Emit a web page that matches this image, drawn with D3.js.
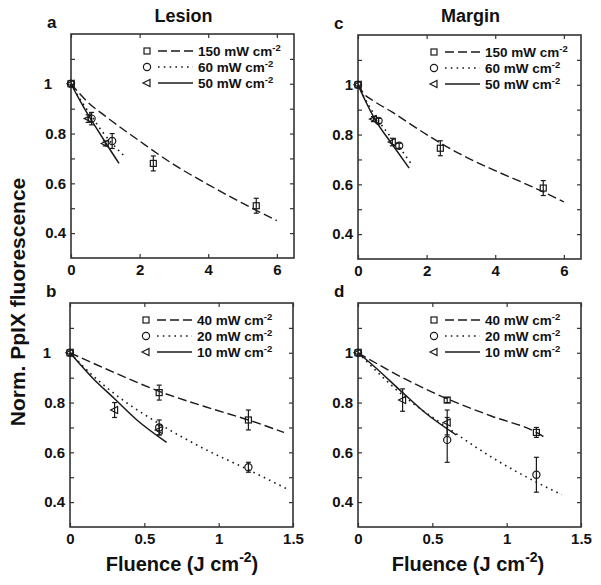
<!DOCTYPE html>
<html><head><meta charset="utf-8">
<script src="https://cdn.jsdelivr.net/npm/d3@7"></script>
<style>body{margin:0;background:#fff}svg{display:block}text{font-family:"Liberation Sans",Arial,sans-serif;font-weight:bold;fill:#111}</style>
</head><body><svg id="c" width="601" height="585"></svg>
<script>
// ---------- data ----------
const panelLetters = ["a", "b", "c", "d"];
const panelTitles = ["Lesion", "Margin"];
const legendTop = ["150", "60", "50"];
const legendBottom = ["40", "20", "10"];
const yTicks = [0.4, 0.5, 0.6, 0.7, 0.8, 0.9, 1.0, 1.1];
const yTickLabels = [0.4, 0.6, 0.8, 1];
const xTicksTop = [0, 2, 4, 6];
const xTicksBottom = [0, 0.5, 1, 1.5];

// Panel a (Lesion, high irradiance)
const aSqX = [0, 2.4, 5.4], aSqY = [1, 0.68, 0.51], aSqE = [0, 0.03, 0.03];
const aCiX = [0, 0.6, 1.2], aCiY = [1, 0.86, 0.77], aCiE = [0, 0.025, 0.03];
const aTrX = [0, 0.5, 1.0], aTrY = [1, 0.86, 0.76], aTrE = [0, 0.015, 0.01];
const aDashX = [0, 0.5, 1, 2, 3, 4, 5, 6], aDashY = [1, 0.925, 0.87, 0.77, 0.675, 0.595, 0.52, 0.45];
const aDotX = [0, 0.3, 0.6, 0.9, 1.2, 1.55], aDotY = [1, 0.93, 0.87, 0.81, 0.76, 0.71];
const aSolX = [0, 0.25, 0.5, 0.75, 1, 1.4], aSolY = [1, 0.935, 0.875, 0.82, 0.765, 0.68];

// Panel c (Margin, high irradiance)
const cSqX = [0, 2.4, 5.4], cSqY = [1, 0.745, 0.585], cSqE = [0, 0.03, 0.03];
const cCiX = [0, 0.6, 1.2], cCiY = [1, 0.855, 0.755], cCiE = [0, 0.01, 0.01];
const cTrX = [0, 0.45, 1.0], cTrY = [1, 0.862, 0.77], cTrE = [0, 0.01, 0.015];
const cDashX = [0, 0.2, 0.4, 1, 2, 3, 4, 5, 6], cDashY = [1, 0.96, 0.94, 0.89, 0.8, 0.72, 0.655, 0.595, 0.53];
const cDotX = [0, 0.3, 0.6, 0.9, 1.2, 1.56], cDotY = [1, 0.92, 0.855, 0.8, 0.75, 0.68];
const cSolX = [0, 0.2, 0.5, 1, 1.49], cSolY = [1, 0.94, 0.86, 0.76, 0.665];

// Panel b (Lesion, low irradiance)
const bSqX = [0, 0.6, 1.2], bSqY = [1, 0.84, 0.73], bSqE = [0, 0.03, 0.04];
const bCiX = [0, 0.6, 1.2], bCiY = [1, 0.70, 0.54], bCiE = [0, 0.03, 0.02];
const bTrX = [0, 0.3, 0.6], bTrY = [1, 0.77, 0.69], bTrE = [0, 0.03, 0.02];
const bDashX = [0, 0.3, 0.6, 0.9, 1.2, 1.44], bDashY = [1, 0.92, 0.845, 0.785, 0.73, 0.68];
const bDotX = [0, 0.15, 0.3, 0.6, 0.9, 1.2, 1.47], bDotY = [1, 0.91, 0.835, 0.715, 0.615, 0.53, 0.45];
const bSolX = [0, 0.15, 0.3, 0.45, 0.65], bSolY = [1, 0.9, 0.815, 0.73, 0.64];

// Panel d (Margin, low irradiance)
const dSqX = [0, 0.6, 1.2], dSqY = [1, 0.81, 0.68], dSqE = [0, 0.01, 0.02];
const dCiX = [0, 0.6, 1.2], dCiY = [1, 0.65, 0.51], dCiE = [0, 0.09, 0.07];
const dTrX = [0, 0.3, 0.6], dTrY = [1, 0.81, 0.72], dTrE = [0, 0.045, 0.05];
const dDashX = [0, 0.3, 0.6, 0.9, 1.2, 1.27], dDashY = [1, 0.9, 0.815, 0.745, 0.68, 0.655];
const dDotX = [0, 0.3, 0.6, 0.9, 1.2, 1.37], dDotY = [1, 0.83, 0.7, 0.58, 0.48, 0.43];
const dSolX = [0, 0.1, 0.3, 0.45, 0.66], dSolY = [1, 0.95, 0.84, 0.76, 0.67];

// ---------- drawing ----------
const svg = d3.select("#c");
const PW = 223, PH = 224;
const ink = "#1a1a1a";

const panels = [
  {letter: panelLetters[0], x0: 71, y0: 34, xmax: 6.5, xt: xTicksTop, leg: legendTop, title: panelTitles[0], oneShift: -14,
   sq: [aSqX, aSqY, aSqE], ci: [aCiX, aCiY, aCiE], tr: [aTrX, aTrY, aTrE],
   dash: [aDashX, aDashY], dot: [aDotX, aDotY], sol: [aSolX, aSolY]},
  {letter: panelLetters[1], x0: 70, y0: 303, xmax: 1.5, xt: xTicksBottom, leg: legendBottom, oneShift: -14,
   sq: [bSqX, bSqY, bSqE], ci: [bCiX, bCiY, bCiE], tr: [bTrX, bTrY, bTrE],
   dash: [bDashX, bDashY], dot: [bDotX, bDotY], sol: [bSolX, bSolY]},
  {letter: panelLetters[2], x0: 358, y0: 35, xmax: 6.5, xt: xTicksTop, leg: legendTop, title: panelTitles[1], oneShift: 0,
   sq: [cSqX, cSqY, cSqE], ci: [cCiX, cCiY, cCiE], tr: [cTrX, cTrY, cTrE],
   dash: [cDashX, cDashY], dot: [cDotX, cDotY], sol: [cSolX, cSolY]},
  {letter: panelLetters[3], x0: 358, y0: 303, xmax: 1.5, xt: xTicksBottom, leg: legendBottom, oneShift: 0,
   sq: [dSqX, dSqY, dSqE], ci: [dCiX, dCiY, dCiE], tr: [dTrX, dTrY, dTrE],
   dash: [dDashX, dDashY], dot: [dDotX, dDotY], sol: [dSolX, dSolY]}
];

const styles = {
  dash: {dash: "9,4", w: 1.4},
  dot: {dash: "1.6,4.2", w: 1.6},
  sol: {dash: null, w: 1.5}
};

function marker(g, type, cx, cy) {
  if (type === "sq") {
    g.append("rect").attr("x", cx - 3).attr("y", cy - 3).attr("width", 6).attr("height", 6)
      .attr("fill", "none").attr("stroke", ink).attr("stroke-width", 1.2);
  } else if (type === "ci") {
    g.append("circle").attr("cx", cx).attr("cy", cy).attr("r", 3.6)
      .attr("fill", "none").attr("stroke", ink).attr("stroke-width", 1.2);
  } else {
    g.append("path").attr("d", `M${cx - 4},${cy} L${cx + 3},${cy - 3.5} L${cx + 3},${cy + 3.5} Z`)
      .attr("fill", "none").attr("stroke", ink).attr("stroke-width", 1.2);
  }
}

panels.forEach(p => {
  const g = svg.append("g").attr("transform", `translate(${p.x0},${p.y0})`);
  const x = d3.scaleLinear().domain([0, p.xmax]).range([0, PW]);
  const y = d3.scaleLinear().domain([0.3, 1.2]).range([PH, 0]);

  const fmtY = d => yTickLabels.some(v => Math.abs(v - d) < 1e-9) ? d3.format("~g")(d) : "";
  const left = g.append("g").call(d3.axisLeft(y).tickValues(yTicks).tickSizeInner(-4).tickSizeOuter(0).tickPadding(5).tickFormat(fmtY));
  const right = g.append("g").attr("transform", `translate(${PW},0)`).call(d3.axisRight(y).tickValues(yTicks).tickSizeInner(-4).tickSizeOuter(0).tickFormat(""));
  const bottom = g.append("g").attr("transform", `translate(0,${PH})`).call(d3.axisBottom(x).tickValues(p.xt).tickSizeInner(-4).tickSizeOuter(0).tickPadding(6).tickFormat(d3.format("~g")));
  const top = g.append("g").call(d3.axisTop(x).tickValues(p.xt).tickSizeInner(-4).tickSizeOuter(0).tickFormat(""));
  [left, right, bottom, top].forEach(a => {
    a.select(".domain").remove();
    a.selectAll(".tick line").attr("stroke", "#333").attr("stroke-width", 1.2);
    a.selectAll("text").attr("font-size", 15).attr("font-family", "Liberation Sans, Arial, sans-serif").attr("font-weight", "bold").attr("fill", "#111");
  });
  left.selectAll(".tick").filter(d => Math.abs(d - 1) < 1e-9).select("text").attr("dx", p.oneShift);
  g.append("rect").attr("width", PW).attr("height", PH).attr("fill", "none").attr("stroke", "#333").attr("stroke-width", 1.6);

  // fit lines
  ["dash", "dot", "sol"].forEach(k => {
    const xs = p[k][0], ys = p[k][1];
    const pts = xs.map((v, i) => [v, ys[i]]);
    const line = d3.line().x(d => x(d[0])).y(d => y(d[1])).curve(d3.curveMonotoneX);
    g.append("path").attr("d", line(pts)).attr("fill", "none").attr("stroke", ink)
      .attr("stroke-width", styles[k].w).attr("stroke-dasharray", styles[k].dash);
  });

  // markers with error bars
  ["sq", "ci", "tr"].forEach(k => {
    const [xs, ys, es] = p[k];
    xs.forEach((v, i) => {
      const cx = x(v), cy = y(ys[i]);
      if (es[i] > 0) {
        const y1 = y(ys[i] + es[i]), y2 = y(ys[i] - es[i]);
        g.append("line").attr("x1", cx).attr("x2", cx).attr("y1", y1).attr("y2", y2).attr("stroke", ink).attr("stroke-width", 1.2);
        [y1, y2].forEach(yy => g.append("line").attr("x1", cx - 2.5).attr("x2", cx + 2.5).attr("y1", yy).attr("y2", yy).attr("stroke", ink).attr("stroke-width", 1.2));
      }
      marker(g, k, cx, cy);
    });
  });

  // legend
  const types = ["sq", "ci", "tr"], lk = ["dash", "dot", "sol"];
  p.leg.forEach((lab, i) => {
    const ly = 17 + i * 16;
    marker(g, types[i], PW - 147, ly);
    g.append("line").attr("x1", PW - 136).attr("x2", PW - 101).attr("y1", ly).attr("y2", ly)
      .attr("stroke", ink).attr("stroke-width", styles[lk[i]].w).attr("stroke-dasharray", styles[lk[i]].dash);
    const t = g.append("text").attr("x", PW - 96).attr("y", ly + 5).attr("font-size", 13.5);
    t.append("tspan").text(lab + " mW cm");
    t.append("tspan").attr("dy", -5).attr("font-size", 9.5).text("-2");
  });

  // panel letter
  svg.append("text").attr("x", p.x0 - 24).attr("y", p.y0 - 6).attr("font-size", 17).text(p.letter);
  if (p.title) {
    svg.append("text").attr("x", p.x0 + PW / 2 + 1).attr("y", 22).attr("text-anchor", "middle").attr("font-size", 18).text(p.title);
  }
});

// axis titles
const yl = svg.append("text").attr("transform", "translate(25,302) rotate(-90)").attr("text-anchor", "middle").attr("font-size", 21);
yl.text("Norm. PpIX fluorescence");

[[182], [468]].forEach(([cx]) => {
  const t = svg.append("text").attr("x", cx).attr("y", 571).attr("text-anchor", "middle").attr("font-size", 20);
  t.append("tspan").text("Fluence (J cm");
  t.append("tspan").attr("dy", -9).attr("font-size", 14).text("-2");
  t.append("tspan").attr("dy", 9).text(")");
});
</script></body></html>
